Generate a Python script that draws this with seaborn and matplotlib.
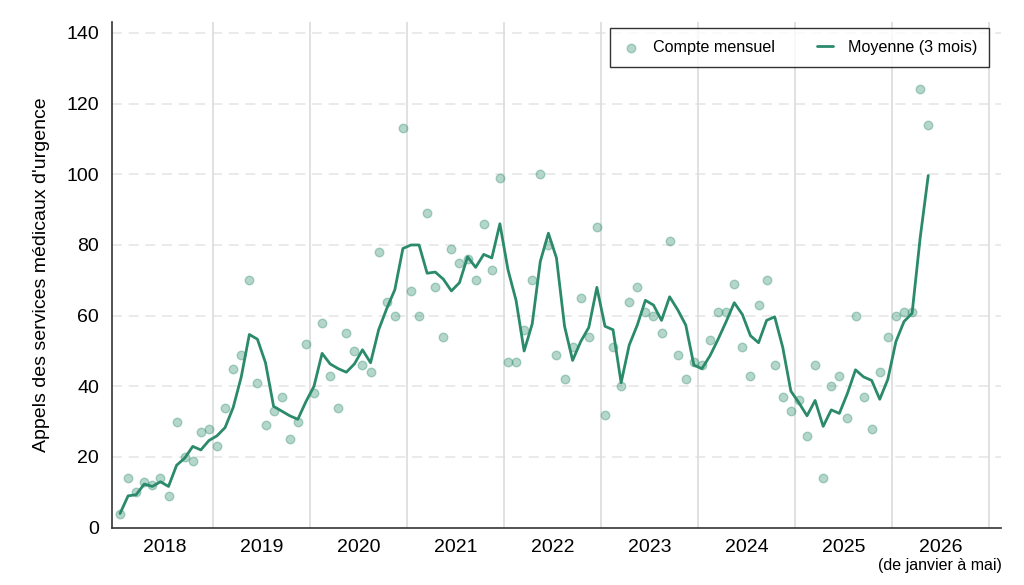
import numpy as np
import pandas as pd
import matplotlib
matplotlib.use("Agg")
import matplotlib.pyplot as plt
import seaborn as sns

# Comptes mensuels (janvier 2018 -> mai 2026)
annees = [2018, 2019, 2020, 2021, 2022, 2023, 2024, 2025, 2026]
comptes_2018 = [4, 14, 10, 13, 12, 14, 9, 30, 20, 19, 27, 28]
comptes_2019 = [23, 34, 45, 49, 70, 41, 29, 33, 37, 25, 30, 52]
comptes_2020 = [38, 58, 43, 34, 55, 50, 46, 44, 78, 64, 60, 113]
comptes_2021 = [67, 60, 89, 68, 54, 79, 75, 76, 70, 86, 73, 99]
comptes_2022 = [47, 47, 56, 70, 100, 80, 49, 42, 51, 65, 54, 85]
comptes_2023 = [32, 51, 40, 64, 68, 61, 60, 55, 81, 49, 42, 47]
comptes_2024 = [46, 53, 61, 61, 69, 51, 43, 63, 70, 46, 37, 33]
comptes_2025 = [36, 26, 46, 14, 40, 43, 31, 60, 37, 28, 44, 54]
comptes_2026 = [60, 61, 61, 124, 114]

tous = [comptes_2018, comptes_2019, comptes_2020, comptes_2021, comptes_2022,
        comptes_2023, comptes_2024, comptes_2025, comptes_2026]

rows = []
for an, vals in zip(annees, tous):
    for m, v in enumerate(vals, start=1):
        rows.append({"annee": an, "mois": m, "compte": v})
df = pd.DataFrame(rows)
df["t"] = df["annee"] + (df["mois"] - 0.5) / 12
df["moyenne"] = df["compte"].rolling(3, min_periods=1).mean()

vert = "#2a8a6b"

sns.set_theme(style="white")
plt.rcParams["font.family"] = ["Liberation Sans", "DejaVu Sans"]

fig = plt.figure(figsize=(10.24, 5.85), dpi=100)
ax = fig.add_axes([0.109, 0.098, 0.869, 0.865])

# grille
for yv in range(20, 141, 20):
    ax.axhline(yv, color="#e6e6e6", lw=1.2, ls=(0, (6, 4)), zorder=0)
for an in range(2019, 2028):
    ax.axvline(an, color="#dcdcdc", lw=1.2, zorder=0)

sns.scatterplot(data=df, x="t", y="compte", ax=ax, s=38, color=vert,
                alpha=0.35, edgecolor=vert, linewidth=1.0,
                label="Compte mensuel", zorder=2)
sns.lineplot(data=df, x="t", y="moyenne", ax=ax, color=vert, lw=2.0,
             label="Moyenne (3 mois)", zorder=3)

ax.set_xlim(2017.955, 2027.13)
ax.set_ylim(0, 143.2)

ax.set_yticks(range(0, 141, 20))
ax.set_xticks(range(2018, 2028))
ax.set_xticklabels([])
ax.set_xticks([a + 0.5 for a in annees], minor=True)
ax.set_xticklabels([str(a) for a in annees], minor=True)
ax.tick_params(axis="x", which="minor", length=0, labelsize=14, pad=8,
               labelcolor="black")
ax.tick_params(axis="x", which="major", length=6, width=1.2, color="#333333")
ax.tick_params(axis="y", length=6, width=1.2, color="#333333", labelsize=14,
               pad=3, labelcolor="black")

ax.annotate("(de janvier à mai)", xy=(2026.5, 0), xycoords=("data", "axes fraction"),
            xytext=(0, -30), textcoords="offset pixels", ha="center", va="top",
            fontsize=11.5, color="black")

ax.set_xlabel("")
ax.set_ylabel("Appels des services médicaux d'urgence", fontsize=14,
              labelpad=12, color="black")

for s in ["top", "right"]:
    ax.spines[s].set_visible(False)
for s in ["left", "bottom"]:
    ax.spines[s].set_color("#333333")
    ax.spines[s].set_linewidth(1.2)

leg = ax.legend(loc="upper right", bbox_to_anchor=(0.986, 0.9875), ncol=2,
                frameon=True, fontsize=11.6, fancybox=False, edgecolor="black",
                handlelength=1.0, handletextpad=0.9, columnspacing=2.6,
                borderpad=0.75, borderaxespad=0, markerscale=1.0)
leg.get_frame().set_linewidth(1.0)
for t in leg.get_texts():
    t.set_color("black")

fig.savefig("out.png", dpi=100)
